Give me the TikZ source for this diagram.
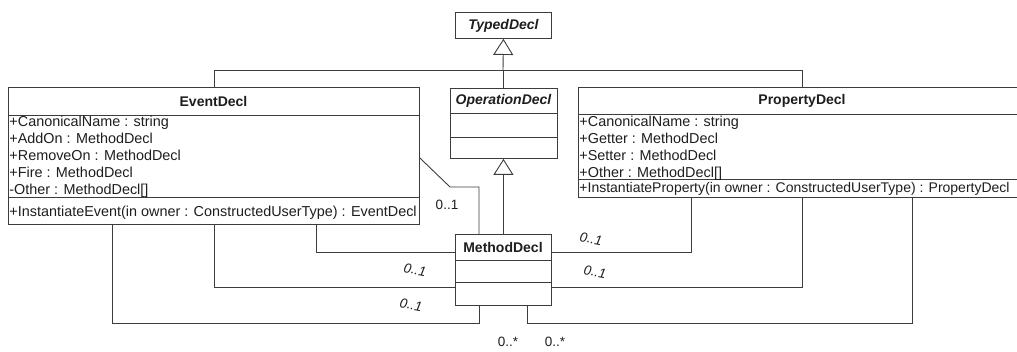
\documentclass[tikz,border=0pt]{standalone}
\usepackage{fontspec}
\setmainfont{Liberation Sans}
\usetikzlibrary{arrows.meta}
\definecolor{linegray}{HTML}{3C3C3C}
\definecolor{textgray}{HTML}{1E1E1E}
\begin{document}
\begin{tikzpicture}[x=1pt,y=-1pt,line width=0.9pt,
  classbox/.style={draw=linegray, fill=white, inner sep=0pt, anchor=north west},
  title/.style={font=\fontsize{14}{16}\selectfont\bfseries, text=textgray, inner sep=0pt},
  member/.style={font=\fontsize{14.4}{17}\selectfont, anchor=base west, inner sep=0pt, text=textgray},
  mult/.style={font=\fontsize{13.5}{16}\selectfont\itshape, rotate=-10, text=textgray, inner sep=0pt},
  multup/.style={font=\fontsize{13.5}{16}\selectfont, text=textgray, inner sep=0pt},
  sep/.style={draw=linegray},
  gen/.style={draw=linegray, -{Triangle[length=16pt, width=20pt, fill=white]}},
  assoc/.style={draw=linegray}]
\useasboundingbox (0,0) rectangle (1017,352);

% ---- classes ----
\node[classbox, minimum width=96pt, minimum height=26pt,
      font=\fontsize{14}{16}\selectfont\bfseries\itshape, text=textgray] (typed) at (455,12) {TypedDecl};

\node[classbox, minimum width=107pt, minimum height=70pt] (op) at (450,88) {};
\node[title, font=\fontsize{14}{16}\selectfont\bfseries\itshape] (opname) at (503.5,100.5) {OperationDecl};
\draw[sep] (op.west |- 0,113) -- (op.east |- 0,113);
\draw[sep] (op.west |- 0,137) -- (op.east |- 0,137);

\node[classbox, minimum width=411pt, minimum height=137pt] (event) at (8,87) {};
\node[title] (eventname) at (213.5,101) {EventDecl};
\draw[sep] (event.west |- 0,115) -- (event.east |- 0,115);
\draw[sep] (event.west |- 0,197) -- (event.east |- 0,197);
\node[member] (ev1) at (9,127) {+CanonicalName : string};
\node[member] (ev2) at (9,144) {+AddOn : MethodDecl};
\node[member] (ev3) at (9,161) {+RemoveOn : MethodDecl};
\node[member] (ev4) at (9,178) {+Fire : MethodDecl};
\node[member] (ev5) at (9,194.5) {-Other : MethodDecl[]};
\node[member] (ev6) at (9,216.5) {+InstantiateEvent(in owner : ConstructedUserType) : EventDecl};

\node[classbox, minimum width=448pt, minimum height=110pt] (prop) at (578,87) {};
\node[title] (propname) at (802,100.5) {PropertyDecl};
\draw[sep] (prop.west |- 0,114) -- (prop.east |- 0,114);
\draw[sep] (prop.west |- 0,179) -- (prop.east |- 0,179);
\node[member] (pr1) at (579,127) {+CanonicalName : string};
\node[member] (pr2) at (579,144) {+Getter : MethodDecl};
\node[member] (pr3) at (579,161) {+Setter : MethodDecl};
\node[member] (pr4) at (579,177.5) {+Other : MethodDecl[]};
\node[member, font=\fontsize{14}{17}\selectfont] (pr5) at (579,192.5)
  {+InstantiateProperty(in owner : ConstructedUserType) : PropertyDecl};

\node[classbox, minimum width=96pt, minimum height=71pt] (method) at (455,234) {};
\node[title] (methodname) at (503,247) {MethodDecl};
\draw[sep] (method.west |- 0,260) -- (method.east |- 0,260);
\draw[sep] (method.west |- 0,282) -- (method.east |- 0,282);

% ---- generalizations ----
\coordinate (hub) at (503,70);
\draw[assoc] (event.north) |- (hub);
\draw[assoc] (prop.north) |- (hub);
\draw[assoc] (op.north -| hub) -- (hub);
\draw[gen] (hub) -- (typed.south);
\draw[gen] (method.north) -- (method.north |- op.south);

% ---- associations ----
\draw[assoc] (event.east |- 0,158) -- (450,187) -- (479,187) -- (479,0 |- method.north);
\draw[assoc] (316,0 |- event.south) |- (method.west |- 0,252);
\draw[assoc] (event.south) |- (method.west |- 0,287);
\draw[assoc] (112,0 |- event.south) |- (479,323) -- (479,0 |- method.south);
\draw[assoc] (691,0 |- prop.south) |- (method.east |- 0,252);
\draw[assoc] (prop.south) |- (method.east |- 0,287);
\draw[assoc] (912,0 |- prop.south) |- (527,323) -- (527,0 |- method.south);

% ---- multiplicities ----
\node[multup] (m1) at (447,205) {0..1};
\node[mult] (m2) at (415,270) {0..1};
\node[mult] (m3) at (411,305) {0..1};
\node[mult] (m4) at (591,239) {0..1};
\node[mult] (m5) at (595,272) {0..1};
\node[multup] (m6) at (508,342) {0..*};
\node[multup] (m7) at (555,342) {0..*};
\end{tikzpicture}
\end{document}
